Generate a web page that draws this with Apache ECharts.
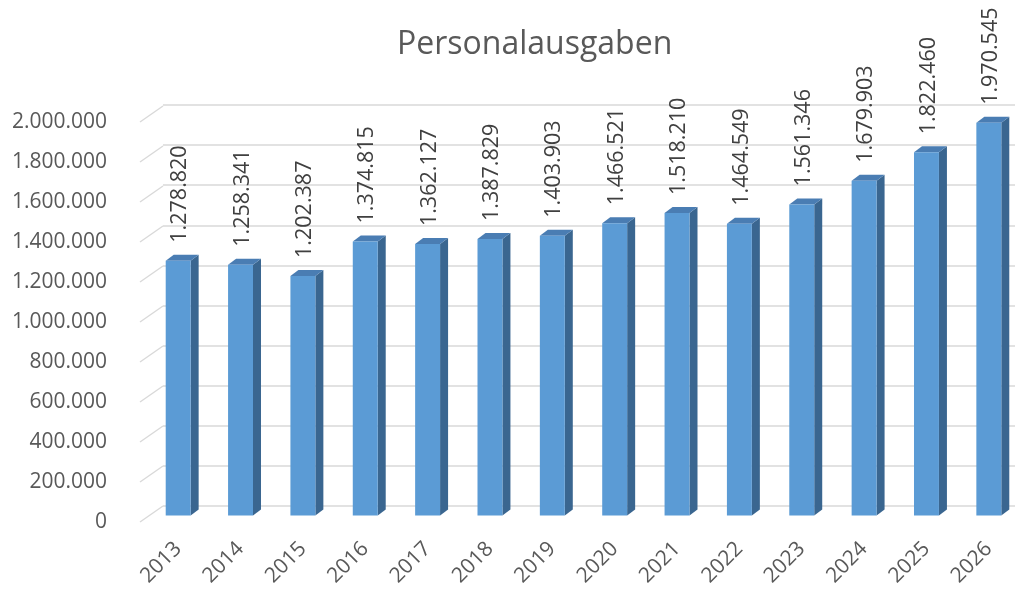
<!DOCTYPE html>
<html>
<head>
<meta charset="utf-8">
<script src="https://cdn.jsdelivr.net/npm/echarts@6/dist/echarts.min.js"></script>
<style>
  html, body { margin: 0; padding: 0; background: #fff; }
  #chart { width: 1023px; height: 589px; }
</style>
</head>
<body>
<div id="chart"></div>
<script>
  // Daten
  const years = ['2013', '2014', '2015', '2016', '2017', '2018', '2019', '2020', '2021', '2022', '2023', '2024', '2025', '2026'];
  const ausgaben = [1278820, 1258341, 1202387, 1374815, 1362127, 1387829, 1403903, 1466521, 1518210, 1464549, 1561346, 1679903, 1822460, 1970545];
  const yTicks = [0, 200000, 400000, 600000, 800000, 1000000, 1200000, 1400000, 1600000, 1800000, 2000000];

  const fontFamily = '"Open Sans", "Liberation Sans", sans-serif';
  // Tiefe der 3D-Saeulen
  const depthX = 8, depthY = -6;

  const fmt = (v) => String(v).replace(/\B(?=(\d{3})+(?!\d))/g, '.');

  const chart = echarts.init(document.getElementById('chart'));

  const option = {
    animation: false,
    title: {
      text: 'Personalausgaben',
      left: 392,
      top: 24,
      textStyle: { color: '#595959', fontSize: 32, fontWeight: 'normal', fontFamily: fontFamily }
    },
    grid: [
      // Saeulen-Ebene
      { left: 147, right: 3, top: 117, bottom: 72 },
      // Rueckwand
      { left: 163, right: 8, top: 105, bottom: 83 },
      // Vorderkante (Achsenbeschriftung)
      { left: 140, right: 31, top: 122, bottom: 67 }
    ],
    xAxis: [
      {
        gridIndex: 0,
        type: 'category',
        data: years,
        axisLine: { show: false },
        axisTick: { show: false },
        axisLabel: { rotate: 45, margin: 30, color: '#595959', fontSize: 21, fontFamily: fontFamily }
      },
      { gridIndex: 1, type: 'category', data: years, show: false },
      { gridIndex: 2, type: 'value', min: 0, max: 1, show: false }
    ],
    yAxis: [
      { gridIndex: 0, type: 'value', min: 0, max: 2000000, interval: 200000, show: false },
      {
        gridIndex: 1,
        type: 'value',
        min: 0,
        max: 2000000,
        interval: 200000,
        axisLine: { show: false },
        axisTick: { show: false },
        axisLabel: { show: false },
        splitLine: { lineStyle: { color: '#D9D9D9', width: 1.5 } }
      },
      {
        gridIndex: 2,
        type: 'value',
        min: 0,
        max: 2000000,
        interval: 200000,
        axisLine: { show: false },
        axisTick: { show: false },
        splitLine: { show: false },
        axisLabel: {
          margin: 33,
          color: '#595959',
          fontSize: 21,
          fontFamily: fontFamily,
          formatter: (v) => fmt(v)
        }
      }
    ],
    series: [
      {
        // schraege Linien vom Boden zur Rueckwand
        type: 'custom',
        xAxisIndex: 2,
        yAxisIndex: 2,
        silent: true,
        data: yTicks.map((v) => [0, v]),
        renderItem: (params, api) => {
          const p = api.coord([0, api.value(1)]);
          return {
            type: 'line',
            shape: { x1: p[0], y1: p[1], x2: p[0] + 23, y2: p[1] - 16 },
            style: { stroke: '#D9D9D9', lineWidth: 1.5 }
          };
        }
      },
      {
        type: 'custom',
        xAxisIndex: 0,
        yAxisIndex: 0,
        data: ausgaben.map((v, i) => [i, v]),
        renderItem: (params, api) => {
          const p = api.coord([api.value(0), api.value(1)]);
          const base = api.coord([api.value(0), 0]);
          const w = api.size([1, 0])[0] * 0.4;
          const x = p[0] - w / 2;
          const top = p[1];
          const bottom = base[1];
          return {
            type: 'group',
            children: [
              {
                type: 'polygon',
                shape: { points: [[x + w, top], [x + w + depthX, top + depthY], [x + w + depthX, bottom + depthY], [x + w, bottom]] },
                style: { fill: '#3A6690' }
              },
              {
                type: 'polygon',
                shape: { points: [[x, top], [x + depthX, top + depthY], [x + w + depthX, top + depthY], [x + w, top]] },
                style: { fill: '#4A7DB3' }
              },
              {
                type: 'rect',
                shape: { x: x, y: top, width: w, height: bottom - top },
                style: { fill: '#5B9BD5' }
              },
              {
                type: 'text',
                x: p[0] + 2,
                y: top - 18,
                rotation: Math.PI / 2,
                style: {
                  text: fmt(api.value(1)),
                  align: 'left',
                  verticalAlign: 'middle',
                  fill: '#404040',
                  fontSize: 21.5,
                  fontFamily: fontFamily
                }
              }
            ]
          };
        }
      }
    ]
  };

  chart.setOption(option);
</script>
</body>
</html>
